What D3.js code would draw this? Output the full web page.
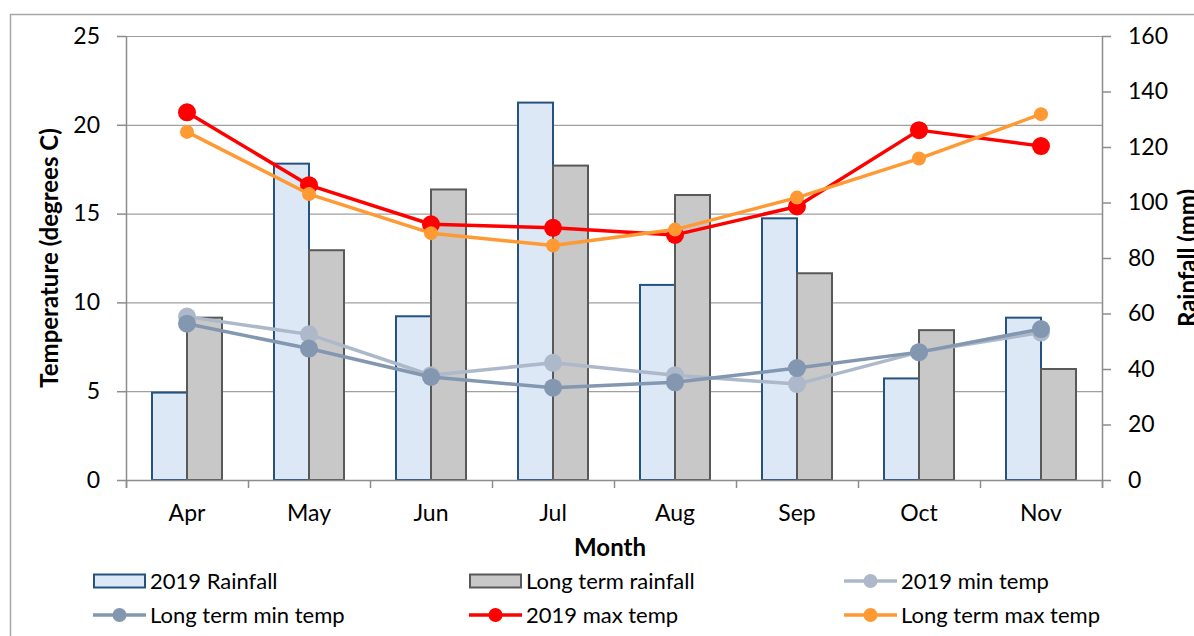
<!DOCTYPE html>
<html>
<head>
<meta charset="utf-8">
<script src="https://cdn.jsdelivr.net/npm/d3@7"></script>
<style>
  html, body { margin: 0; padding: 0; background: #fff; }
  svg { display: block; }
  text { font-family: Lato, "Open Sans", sans-serif; fill: #000; }
</style>
</head>
<body>
<svg id="chart" width="1194" height="636"></svg>
<script>
// Monthly climate data
const months = ["Apr", "May", "Jun", "Jul", "Aug", "Sep", "Oct", "Nov"];
const rain2019 = [31.5, 114, 59, 136, 70.3, 94.3, 36.6, 58.5];      // mm
const rainLongTerm = [58.5, 82.8, 104.7, 113.3, 102.7, 74.5, 54, 40]; // mm
const minTemp2019 = [9.2, 8.2, 5.9, 6.6, 5.9, 5.4, 7.2, 8.3];          // degrees C
const minTempLongTerm = [8.8, 7.4, 5.8, 5.2, 5.5, 6.3, 7.2, 8.5];
const maxTemp2019 = [20.7, 16.6, 14.4, 14.2, 13.8, 15.4, 19.7, 18.8];
const maxTempLongTerm = [19.6, 16.1, 13.9, 13.2, 14.1, 15.9, 18.1, 20.6];
const tempTicks = [0, 5, 10, 15, 20, 25];
const rainTicks = [0, 20, 40, 60, 80, 100, 120, 140, 160];

const svg = d3.select("#chart");
const plotLeft = 126, plotRight = 1102, plotTop = 36, plotBottom = 480;
const tickFont = 23, titleFont = 24, legendFont = 22;

// outer chart frame
svg.append("path")
  .attr("d", `M10.5,636 V14.5 H1194`)
  .attr("fill", "none").attr("stroke", "#a6a6a6").attr("stroke-width", 1.5);

const x = d3.scaleBand().domain(months).range([plotLeft, plotRight]);
const yT = d3.scaleLinear().domain([0, 25]).range([plotBottom, plotTop]);
const yR = d3.scaleLinear().domain([0, 160]).range([plotBottom, plotTop]);

// horizontal gridlines
svg.append("g").selectAll("line").data(tempTicks.slice(1)).join("line")
  .attr("x1", plotLeft).attr("x2", plotRight)
  .attr("y1", d => yT(d) + 0.5).attr("y2", d => yT(d) + 0.5)
  .attr("stroke", "#a0a0a0").attr("stroke-width", 1.2);

// bars
const barW = 35;
const bars = svg.append("g");
bars.selectAll("rect.r19").data(months).join("rect")
  .attr("x", (d) => x(d) + x.bandwidth() / 2 - barW)
  .attr("y", (d, i) => yR(rain2019[i]))
  .attr("width", barW)
  .attr("height", (d, i) => plotBottom - yR(rain2019[i]))
  .attr("fill", "#dce8f5").attr("stroke", "#25527f").attr("stroke-width", 2);
bars.selectAll("rect.rlt").data(months).join("rect")
  .attr("x", (d) => x(d) + x.bandwidth() / 2)
  .attr("y", (d, i) => yR(rainLongTerm[i]))
  .attr("width", barW)
  .attr("height", (d, i) => plotBottom - yR(rainLongTerm[i]))
  .attr("fill", "#c8c8c8").attr("stroke", "#595959").attr("stroke-width", 2);

// axes
const axisColor = "#8c8c8c";
const leftAxis = svg.append("g").attr("transform", `translate(${plotLeft},0)`)
  .call(d3.axisLeft(yT).tickValues(tempTicks).tickSize(9).tickPadding(17));
const rightAxis = svg.append("g").attr("transform", `translate(${plotRight},0)`)
  .call(d3.axisRight(yR).tickValues(rainTicks).tickSize(9).tickPadding(17));
const bottomAxis = svg.append("g").attr("transform", `translate(0,${plotBottom})`)
  .call(d3.axisBottom(x).tickSize(0).tickPadding(25));
[leftAxis, rightAxis, bottomAxis].forEach(g => {
  g.select(".domain").attr("stroke", axisColor).attr("stroke-width", 1.5);
  g.selectAll(".tick line").attr("stroke", axisColor).attr("stroke-width", 1.5);
  g.selectAll("text").attr("font-size", tickFont).attr("font-family", "Lato, sans-serif").attr("fill", "#000");
});
leftAxis.select(".domain").attr("d", `M0.5,${plotTop}V${plotBottom + 8}`);
rightAxis.select(".domain").attr("d", `M0.5,${plotTop}V${plotBottom + 8}`);
bottomAxis.select(".domain").attr("d", `M0,0.5H${plotRight - plotLeft}`).attr("transform", `translate(${plotLeft},0)`);
// category separator ticks
svg.append("g").selectAll("line").data(d3.range(months.length + 1)).join("line")
  .attr("x1", i => plotLeft + i * x.bandwidth() + 0.5).attr("x2", i => plotLeft + i * x.bandwidth() + 0.5)
  .attr("y1", plotBottom).attr("y2", plotBottom + 8)
  .attr("stroke", axisColor).attr("stroke-width", 1.5);

// temperature lines
const series = [
  { name: "2019 min temp", values: minTemp2019, color: "#adb9ca", r: 9, w: 3.5 },
  { name: "Long term min temp", values: minTempLongTerm, color: "#8497b0", r: 9, w: 3.5 },
  { name: "2019 max temp", values: maxTemp2019, color: "#ff0000", r: 9, w: 3.5 },
  { name: "Long term max temp", values: maxTempLongTerm, color: "#ff9933", r: 7, w: 3.5 }
];
const cx = d => x(d) + x.bandwidth() / 2;
const line = d3.line().x(d => cx(d[0])).y(d => yT(d[1]));
series.forEach(s => {
  const pts = months.map((m, i) => [m, s.values[i]]);
  const g = svg.append("g");
  g.append("path").attr("d", line(pts)).attr("fill", "none")
    .attr("stroke", s.color).attr("stroke-width", s.w).attr("stroke-linejoin", "round");
  g.selectAll("circle").data(pts).join("circle")
    .attr("cx", d => cx(d[0])).attr("cy", d => yT(d[1])).attr("r", s.r)
    .attr("fill", s.color);
});

// axis titles
svg.append("text").attr("transform", `translate(58,${(plotTop + plotBottom) / 2}) rotate(-90)`)
  .attr("text-anchor", "middle").attr("font-size", titleFont).attr("font-weight", "bold")
  .text("Temperature (degrees C)");
svg.append("text").attr("transform", `translate(1196,${(plotTop + plotBottom) / 2}) rotate(-90)`)
  .attr("text-anchor", "middle").attr("font-size", titleFont).attr("font-weight", "bold")
  .text("Rainfall (mm)");
svg.append("text").attr("x", 610).attr("y", 556)
  .attr("text-anchor", "middle").attr("font-size", titleFont).attr("font-weight", "bold")
  .text("Month");

// legend
const legendItems = [
  { type: "bar", label: "2019 Rainfall", fill: "#dce8f5", stroke: "#25527f", x: 93, y: 581 },
  { type: "bar", label: "Long term rainfall", fill: "#c8c8c8", stroke: "#595959", x: 469, y: 581 },
  { type: "line", label: series[0].name, color: series[0].color, r: 7, x: 844, y: 581 },
  { type: "line", label: series[1].name, color: series[1].color, r: 7, x: 93, y: 615 },
  { type: "line", label: series[2].name, color: series[2].color, r: 7, x: 469, y: 615 },
  { type: "line", label: series[3].name, color: series[3].color, r: 7, x: 844, y: 615 }
];
const lg = svg.append("g");
legendItems.forEach(it => {
  const g = lg.append("g").attr("transform", `translate(${it.x},${it.y})`);
  if (it.type === "bar") {
    g.append("rect").attr("x", 1).attr("y", -6.5).attr("width", 51).attr("height", 13)
      .attr("fill", it.fill).attr("stroke", it.stroke).attr("stroke-width", 2);
  } else {
    g.append("line").attr("x1", 0).attr("x2", 53).attr("y1", 0).attr("y2", 0)
      .attr("stroke", it.color).attr("stroke-width", 3.5);
    g.append("circle").attr("cx", 26.5).attr("cy", 0).attr("r", it.r).attr("fill", it.color);
  }
  g.append("text").attr("x", 57).attr("y", 0).attr("dy", "0.35em")
    .attr("font-size", legendFont).text(it.label);
});
</script>
</body>
</html>
